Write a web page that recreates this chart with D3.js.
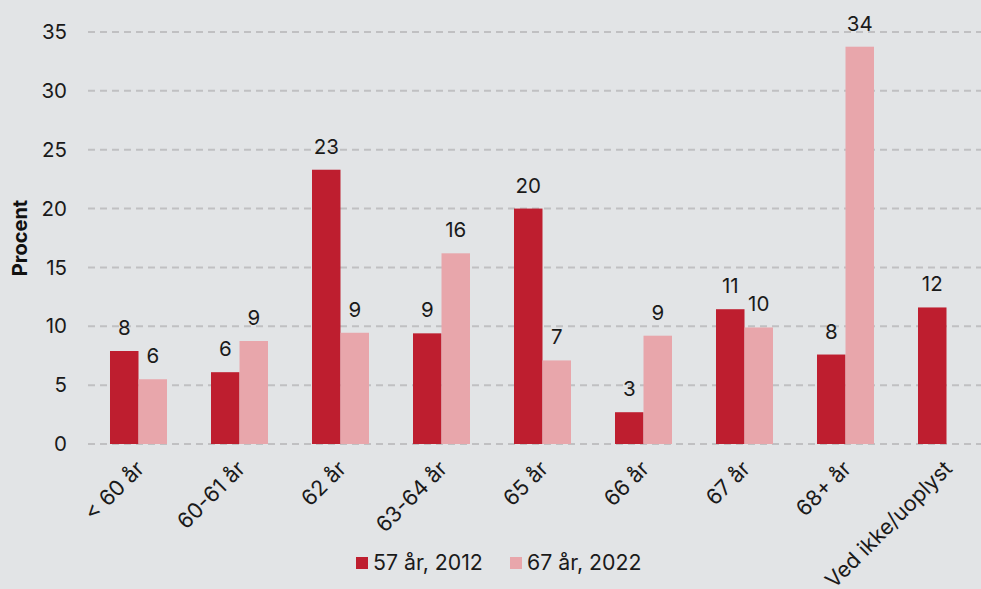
<!DOCTYPE html>
<html><head><meta charset="utf-8">
<script src="https://cdn.jsdelivr.net/npm/d3@7"></script>
<style>
html,body{margin:0;padding:0;background:#e2e4e6;}
svg{display:block;font-family:Inter, "Noto Sans", sans-serif;}
</style></head>
<body><svg id="c" width="981" height="589"></svg>
<script>
const categories = ["< 60 år","60-61 år","62 år","63-64 år","65 år","66 år","67 år","68+ år","Ved ikke/uoplyst"];
const seriesNames = ["57 år, 2012","67 år, 2022"];
const values2012 = [7.9, 6.1, 23.3, 9.4, 20.0, 2.7, 11.45, 7.6, 11.6];
const values2022 = [5.5, 8.75, 9.45, 16.2, 7.1, 9.2, 9.9, 33.75, null];
const yTicks = [0,5,10,15,20,25,30,35];
const colors = ["#be1e2f","#e8a6ab"];

const FS = 20.5;
const svg = d3.select("#c");
const y = d3.scaleLinear().domain([0,35]).range([444,32]);
const x0 = d3.scaleBand().domain(categories).range([88,997]).paddingInner(0.4356).paddingOuter(0.2178);
const x1 = d3.scaleBand().domain([0,1]).range([0,x0.bandwidth()]);

// grid
svg.append("g").selectAll("line").data(yTicks).join("line")
  .attr("x1",88).attr("x2",981).attr("y1",d=>y(d)).attr("y2",d=>y(d))
  .attr("stroke","#c0c0c2").attr("stroke-width",2).attr("stroke-dasharray","7,5");
// y tick labels
svg.append("g").selectAll("text").data(yTicks).join("text")
  .attr("x",67).attr("y",d=>y(d)).attr("dy","0.35em").attr("text-anchor","end")
  .attr("font-size",FS).attr("fill","#1a1a1a").text(d=>d);
// y title
svg.append("text").attr("transform","translate(27,238) rotate(-90)")
  .attr("text-anchor","middle").attr("font-size",20).attr("font-weight","bold")
  .attr("fill","#111").text("Procent");

const series = [values2012, values2022];
const g = svg.append("g");
series.forEach((vals,si)=>{
  const data = categories.map((c,i)=>({c, v: vals[i]})).filter(d=>d.v!=null);
  g.append("g").selectAll("rect").data(data).join("rect")
    .attr("x",d=>x0(d.c)+x1(si)).attr("width",x1.bandwidth())
    .attr("y",d=>y(d.v)).attr("height",d=>y(0)-y(d.v))
    .attr("fill",colors[si]);
  g.append("g").selectAll("text").data(data).join("text")
    .attr("x",d=>x0(d.c)+x1(si)+x1.bandwidth()/2).attr("y",d=>y(d.v)-16)
    .attr("text-anchor","middle").attr("font-size",FS).attr("fill","#1a1a1a")
    .text(d=>Math.round(d.v));
});

// x labels
svg.append("g").selectAll("text").data(categories).join("text")
  .attr("transform",d=>`translate(${x0(d)+x0.bandwidth()/2+7},${470}) rotate(-45)`)
  .attr("text-anchor","end").attr("font-size",21.5).attr("fill","#1a1a1a").text(d=>d);

// legend
const legX = [356, 510];
seriesNames.forEach((n,i)=>{
  svg.append("rect").attr("x",legX[i]).attr("y",557).attr("width",12).attr("height",12).attr("fill",colors[i]);
  svg.append("text").attr("x",legX[i]+17).attr("y",563).attr("dy","0.35em")
    .attr("font-size",21.3).attr("fill","#1a1a1a").text(n);
});
</script></body></html>
